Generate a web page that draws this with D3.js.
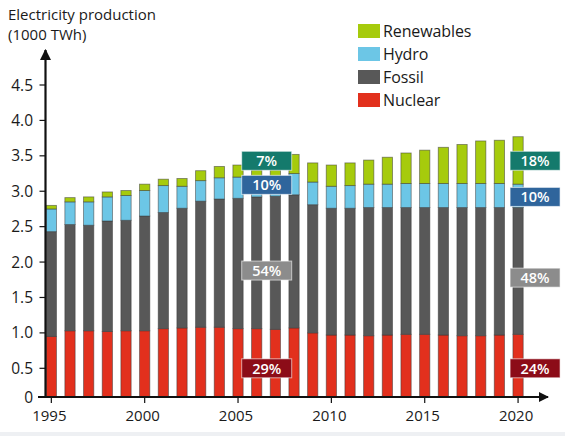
<!DOCTYPE html>
<html>
<head>
<meta charset="utf-8">
<title>Electricity production</title>
<style>
  body { margin: 0; background: #fff; }
  svg { display: block; font-family: "Open Sans", sans-serif; }
</style>
<script src="https://cdnjs.cloudflare.com/ajax/libs/d3/7.8.5/d3.min.js"></script>
</head>
<body>
<svg width="565" height="436"></svg>
<script>
// data (1000 TWh)
var years = d3.range(1995, 2021);
var nuclear    = [0.95,1.03,1.03,1.02,1.03,1.03,1.06,1.07,1.08,1.08,1.06,1.06,1.05,1.07,1.00,0.97,0.97,0.96,0.97,0.98,0.98,0.97,0.96,0.96,0.97,0.98];
var fossil     = [1.48,1.50,1.49,1.56,1.56,1.62,1.64,1.69,1.78,1.81,1.84,1.86,1.88,1.88,1.81,1.79,1.79,1.81,1.80,1.79,1.79,1.80,1.81,1.81,1.80,1.79];
var hydro      = [0.32,0.32,0.33,0.34,0.35,0.36,0.38,0.31,0.29,0.30,0.30,0.26,0.27,0.30,0.32,0.31,0.32,0.33,0.33,0.34,0.34,0.34,0.34,0.34,0.34,0.33];
var renewables = [0.05,0.06,0.07,0.07,0.07,0.09,0.09,0.11,0.14,0.16,0.17,0.12,0.10,0.27,0.27,0.30,0.32,0.34,0.38,0.43,0.47,0.51,0.55,0.60,0.61,0.67];
var yTicks = [0, 0.5, 1.0, 1.5, 2.0, 2.5, 3.0, 3.5, 4.0, 4.5];
var xTicks = [1995, 2000, 2005, 2010, 2015, 2020];

// share labels: year they sit at, level (in 1000 TWh), text
var shareYears  = [2006, 2006, 2006, 2006, 2020, 2020, 2020, 2020];
var shareLevels = [3.43, 3.09, 1.88, 0.50, 3.43, 2.92, 1.78, 0.50];
var shareText   = ["7%", "10%", "54%", "29%", "18%", "10%", "48%", "24%"];
var shareKey    = ["renewables","hydro","fossil","nuclear","renewables","hydro","fossil","nuclear"];

var keys = ["nuclear", "fossil", "hydro", "renewables"];
var names = {renewables: "Renewables", hydro: "Hydro", fossil: "Fossil", nuclear: "Nuclear"};
var colors = {renewables: "#a6cb0c", hydro: "#6cc6e6", fossil: "#585858", nuclear: "#e2301d"};
var boxColors = {renewables: "#147a6c", hydro: "#2f659c", fossil: "#8c8c8c", nuclear: "#8c0c18"};

var rows = years.map(function(y, i) {
  return {year: y, nuclear: nuclear[i], fossil: fossil[i], hydro: hydro[i], renewables: renewables[i]};
});

var svg = d3.select("svg");

var x = d3.scaleBand().domain(years).range([42, 527.4])
  .paddingInner(0.45).paddingOuter(0.225);
// the printed axis squeezes the first half unit
var y = d3.scaleLinear().domain([0, 0.5, 4.5]).range([397, 368.3, 85]);

var stack = d3.stack().keys(keys)(rows);

svg.append("g").selectAll("g")
  .data(stack)
  .enter().append("g")
  .attr("fill", function(d) { return colors[d.key]; })
  .selectAll("rect")
  .data(function(d) { return d; })
  .enter().append("rect")
  .attr("x", function(d) { return x(d.data.year); })
  .attr("width", x.bandwidth())
  .attr("y", function(d) { return y(d[1]); })
  .attr("height", function(d) { return y(d[0]) - y(d[1]); })
  .attr("stroke", "rgba(55,55,55,0.55)")
  .attr("stroke-width", 0.9);

// axes
svg.append("defs").append("marker")
  .attr("id", "arrow")
  .attr("viewBox", "0 0 10 10")
  .attr("refX", 9).attr("refY", 5)
  .attr("markerWidth", 5).attr("markerHeight", 5)
  .attr("orient", "auto")
  .append("path")
  .attr("d", "M0,0 L10,5 L0,10 Z")
  .attr("fill", "#111");

var axisX = 45.5;
svg.append("line")
  .attr("x1", axisX).attr("y1", 398).attr("x2", axisX).attr("y2", 50)
  .attr("stroke", "#111").attr("stroke-width", 2.2)
  .attr("marker-end", "url(#arrow)");
svg.append("line")
  .attr("x1", 38).attr("y1", 397).attr("x2", 548).attr("y2", 397)
  .attr("stroke", "#111").attr("stroke-width", 2)
  .attr("marker-end", "url(#arrow)");

var yAxis = svg.append("g");
yAxis.selectAll("line")
  .data(yTicks)
  .enter().append("line")
  .attr("x1", axisX - 6).attr("x2", axisX)
  .attr("y1", function(d) { return y(d); })
  .attr("y2", function(d) { return y(d); })
  .attr("stroke", "#111").attr("stroke-width", 1.2);
yAxis.selectAll("text")
  .data(yTicks)
  .enter().append("text")
  .attr("x", 33)
  .attr("y", function(d) { return y(d); })
  .attr("dy", "0.36em")
  .attr("text-anchor", "end")
  .attr("font-size", 15.5)
  .attr("fill", "#1a1a1a")
  .text(function(d) { return d === 0 ? "0" : d3.format(".1f")(d); });

var xAxis = svg.append("g");
xAxis.selectAll("line")
  .data(xTicks)
  .enter().append("line")
  .attr("x1", function(d) { return x(d) + x.bandwidth() / 2; })
  .attr("x2", function(d) { return x(d) + x.bandwidth() / 2; })
  .attr("y1", 397).attr("y2", 403)
  .attr("stroke", "#111").attr("stroke-width", 1.2);
xAxis.selectAll("text")
  .data(xTicks)
  .enter().append("text")
  .attr("x", function(d) { return x(d) + x.bandwidth() / 2 - 2; })
  .attr("y", 421)
  .attr("text-anchor", "middle")
  .attr("font-size", 15)
  .attr("fill", "#1a1a1a")
  .text(function(d) { return d; });

// axis title
svg.append("text").attr("x", 8).attr("y", 20)
  .attr("font-size", 15).attr("fill", "#1a1a1a")
  .text("Electricity production");
svg.append("text").attr("x", 8).attr("y", 40)
  .attr("font-size", 15).attr("fill", "#1a1a1a")
  .text("(1000 TWh)");

// legend
var legendKeys = ["renewables", "hydro", "fossil", "nuclear"];
var legend = svg.append("g").attr("transform", "translate(358,24)");
var li = legend.selectAll("g")
  .data(legendKeys)
  .enter().append("g")
  .attr("transform", function(d, i) { return "translate(0," + (i * 23) + ")"; });
li.append("rect")
  .attr("width", 22).attr("height", 14)
  .attr("fill", function(d) { return colors[d]; });
li.append("text")
  .attr("x", 25).attr("y", 7).attr("dy", "0.36em")
  .attr("font-size", 16).attr("fill", "#1a1a1a")
  .attr("letter-spacing", -0.1)
  .text(function(d) { return names[d]; });

// share boxes
var boxes = svg.append("g").selectAll("g")
  .data(shareText)
  .enter().append("g")
  .attr("transform", function(d, i) {
    var cx = x(shareYears[i]) + x.bandwidth() / 2 + (shareYears[i] === 2020 ? 17 : 10);
    return "translate(" + cx + "," + y(shareLevels[i]) + ")";
  });
boxes.append("rect")
  .attr("x", -25).attr("y", -9.5)
  .attr("width", 50).attr("height", 19)
  .attr("fill", function(d, i) { return boxColors[shareKey[i]]; })
  .attr("stroke", "rgba(255,255,255,0.6)").attr("stroke-width", 1);
boxes.append("text")
  .attr("text-anchor", "middle")
  .attr("dy", "0.36em")
  .attr("font-size", 14.5)
  .attr("font-weight", 600)
  .attr("fill", "#fff")
  .text(function(d) { return d; });

// faint strip at the bottom edge
svg.append("rect").attr("x", 0).attr("y", 432).attr("width", 565).attr("height", 4)
  .attr("fill", "#eef0f3");
</script>
</body>
</html>
